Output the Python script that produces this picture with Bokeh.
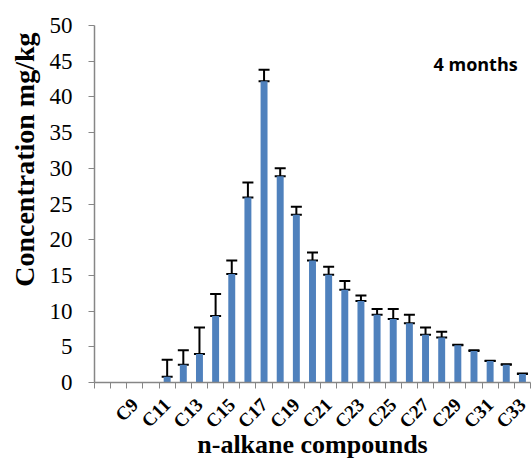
from math import pi
from bokeh.plotting import figure
from bokeh.models import ColumnDataSource, Range1d, FixedTicker, Whisker, TeeHead, Label, Title
from bokeh.embed import file_html
from bokeh.resources import INLINE

compounds = ["C7", "C8", "C9", "C10", "C11", "C12", "C13", "C14", "C15", "C16",
             "C17", "C18", "C19", "C20", "C21", "C22", "C23", "C24", "C25", "C26",
             "C27", "C28", "C29", "C30", "C31", "C32", "C33"]
concentration = [0, 0, 0, 0, 0.8, 2.5, 4.0, 9.3, 15.2, 25.9,
                 42.2, 28.9, 23.5, 17.1, 15.1, 13.0, 11.4, 9.5, 8.9, 8.3,
                 6.7, 6.3, 5.2, 4.4, 3.0, 2.5, 1.2]
error = [0, 0, 0, 0, 2.4, 2.0, 3.7, 3.1, 1.9, 2.1,
         1.6, 1.1, 1.1, 1.1, 1.1, 1.2, 0.8, 0.8, 1.4, 1.2,
         1.0, 0.8, 0.1, 0.1, 0.05, 0.05, 0.05]
labeled = ["C9", "C11", "C13", "C15", "C17", "C19", "C21", "C23", "C25",
           "C27", "C29", "C31", "C33"]
y_ticks = [0, 5, 10, 15, 20, 25, 30, 35, 40, 45, 50]

idx = list(range(len(compounds)))
src = ColumnDataSource(dict(x=idx, top=concentration))
err_x = [i for i, v in zip(idx, concentration) if v > 0]
err_lo = [v for v in concentration if v > 0]
err_hi = [v + e for v, e in zip(concentration, error) if v > 0]
esrc = ColumnDataSource(dict(x=err_x, lo=err_lo, hi=err_hi))

p = figure(width=531, height=462, output_backend="svg", toolbar_location=None,
           x_range=Range1d(-0.5, len(compounds) - 0.5), y_range=Range1d(0, 50),
           min_border_left=92, min_border_right=1, min_border_top=25, min_border_bottom=80)
p.outline_line_color = None
p.xgrid.visible = False
p.ygrid.visible = False

p.vbar(x="x", top="top", width=0.43, source=src, fill_color="#4F81BD", line_color=None)

w = Whisker(base="x", lower="lo", upper="hi", source=esrc, line_color="black", line_width=2,
            upper_head=TeeHead(size=11, line_color="black", line_width=2),
            lower_head=TeeHead(size=11, line_color="black", line_width=2))
p.add_layout(w)

major = [compounds.index(c) for c in labeled]
minor = [i - 0.5 for i in range(len(compounds) + 1)]
xa = p.xaxis[0]
xa.ticker = FixedTicker(ticks=major, minor_ticks=minor)
xa.major_label_overrides = {i: compounds[i] for i in major}
xa.major_label_orientation = pi / 4
xa.major_tick_out = 0
xa.major_tick_in = 0
xa.minor_tick_out = 6
xa.minor_tick_in = 0
xa.minor_tick_line_color = "#868686"
xa.axis_line_color = "#868686"
xa.axis_line_width = 1.5
xa.major_label_text_font = "Liberation Serif"
xa.major_label_text_font_style = "bold"
xa.major_label_text_font_size = "19px"
xa.major_label_text_color = "black"
xa.major_label_standoff = 13
xa.axis_label = "n-alkane compounds"
xa.axis_label_text_font = "Liberation Serif"
xa.axis_label_text_font_style = "bold"
xa.axis_label_text_font_size = "26px"
xa.axis_label_text_color = "black"
xa.axis_label_standoff = -12

ya = p.yaxis[0]
ya.ticker = FixedTicker(ticks=y_ticks)
ya.minor_tick_line_color = None
ya.major_tick_out = 6
ya.major_tick_in = 0
ya.major_tick_line_color = "#868686"
ya.axis_line_color = "#868686"
ya.axis_line_width = 1.5
ya.major_label_text_font = "Liberation Serif"
ya.major_label_text_font_size = "23px"
ya.major_label_text_color = "black"
ya.major_label_standoff = 16

ytitle = Title(text="Concentration  mg/kg", align="right", standoff=13,
               text_font="Liberation Serif", text_font_style="bold",
               text_font_size="28px", text_color="black")
p.add_layout(ytitle, "left")

p.add_layout(Label(x=23.1, y=42.9, text="4 months", text_align="center",
                   text_font="Open Sans", text_font_style="bold",
                   text_font_size="18px", text_color="black"))

open("out.html", "w").write(file_html(p, INLINE))
